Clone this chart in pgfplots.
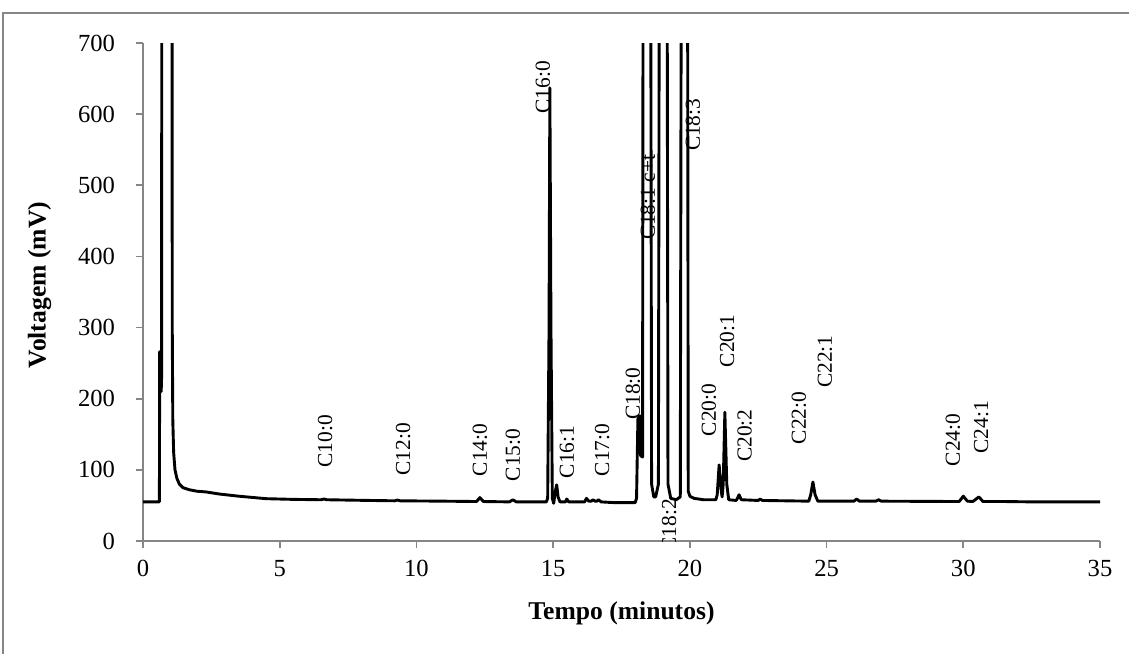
\documentclass[border=0pt]{standalone}
\usepackage{fontspec}
\setmainfont{Liberation Serif}
\usepackage{pgfplots}
\pgfplotsset{compat=1.18}
\definecolor{axgray}{RGB}{134,134,134}

\begin{document}
\begin{tikzpicture}
\useasboundingbox (0,0) rectangle (564.5pt,-326.5pt);
\draw[axgray, line width=1pt] (1.5pt,-330pt) -- (1.5pt,-6.5pt) -- (570pt,-6.5pt);
\begin{axis}[
    at={(71.5pt,-270.5pt)}, anchor=south west,
    scale only axis, width=478.5pt, height=249pt,
    xmin=0, xmax=35, ymin=0, ymax=700,
    xtick={0,5,...,35}, ytick={0,100,...,700},
    axis x line*=bottom, axis y line*=left,
    axis line style={draw=axgray, line width=0.9pt},
    every tick/.style={draw=axgray, line width=0.9pt},
    tick align=outside, major tick length=3.5pt,
    tick label style={font=\fontsize{12.3}{14}\selectfont},
    yticklabel style={xshift=-7pt},
    xticklabel style={yshift=-2.5pt},
    /pgf/number format/assume math mode=true,
    xlabel={Tempo (minutos)}, ylabel={Voltagem (mV)},
    label style={font=\fontsize{12.8}{15}\selectfont\bfseries},
    xlabel style={at={(axis description cs:0.5,-0.145)}, anchor=center},
    ylabel style={at={(axis description cs:-0.108,0.514)}, anchor=center},
]
\addplot[black, line width=1.45pt, line join=round] coordinates {
(0,55) (0.60,55) (0.61,266) (0.655,266) (0.665,210) (0.68,230) (0.70,2000)
(1.04,2000) (1.07,300) (1.09,170) (1.12,125) (1.17,100) (1.24,88) (1.33,80)
(1.46,75) (1.7,72) (1.97,70) (2.3,69) (2.8,66) (3.5,63) (4.5,59.5) (5.5,58.5)
(6.5,58) (6.62,59) (6.72,58) (8.3,57) (9.2,56.5) (9.3,57.5) (9.4,56.5) (11,56)
(12.2,55.5) (12.32,61) (12.45,55.5) (13.4,55) (13.53,58) (13.65,55) (14.75,55)
(14.8,60) (14.85,300) (14.88,637) (14.92,300) (14.97,60) (15.02,53) (15.08,70)
(15.13,79) (15.18,62) (15.25,55) (15.45,55) (15.5,59) (15.57,55) (16.15,55)
(16.22,60) (16.3,56) (16.4,56) (16.46,58) (16.53,56) (16.6,56) (16.66,58)
(16.75,55) (17.2,54) (18.0,54) (18.05,60) (18.1,172) (18.17,176) (18.2,120)
(18.27,118) (18.32,2000) (18.52,2000) (18.6,80) (18.68,62) (18.75,62) (18.85,80)
(18.93,2000) (19.12,2000) (19.2,80) (19.3,60) (19.5,58) (19.65,62) (19.74,2000)
(19.88,2000) (19.94,70) (20.0,63) (20.15,60) (20.5,58) (20.95,58) (21.0,65)
(21.07,107) (21.15,70) (21.18,62) (21.22,80) (21.28,181) (21.35,80) (21.42,58)
(21.7,57) (21.8,65) (21.88,58) (22.5,57) (22.57,59) (22.65,57) (24.35,56)
(24.42,65) (24.5,83) (24.58,65) (24.68,56) (26.0,56) (26.1,59) (26.2,56)
(26.8,56) (26.9,58) (27.0,56) (29.85,55.5) (30.0,63) (30.15,56) (30.35,55.5)
(30.57,62) (30.72,55.5) (31.5,55.5) (32.5,55) (35,55)
};
\begin{scope}[every node/.style={rotate=90, font=\fontsize{10.7}{12}\selectfont, inner sep=0pt}]
\node at (axis cs:6.66,140) {C10:0};
\node at (axis cs:9.51,129) {C12:0};
\node at (axis cs:12.32,128) {C14:0};
\node at (axis cs:13.53,121) {C15:0};
\node at (axis cs:14.63,638) {C16:0};
\node at (axis cs:15.5,125) {C16:1};
\node at (axis cs:16.79,128) {C17:0};
\node at (axis cs:17.92,207) {C18:0};
\node at (axis cs:18.47,483) {C18:1 c+t};
\node at (axis cs:19.24,22) {C18:2};
\node at (axis cs:20.11,585) {C18:3};
\node at (axis cs:20.7,184) {C20:0};
\node at (axis cs:21.36,281) {C20:1};
\node at (axis cs:22.0,148) {C20:2};
\node at (axis cs:23.99,173) {C22:0};
\node at (axis cs:24.94,252) {C22:1};
\node at (axis cs:29.62,142) {C24:0};
\node at (axis cs:30.65,160) {C24:1};
\end{scope}
\end{axis}
\end{tikzpicture}
\end{document}
